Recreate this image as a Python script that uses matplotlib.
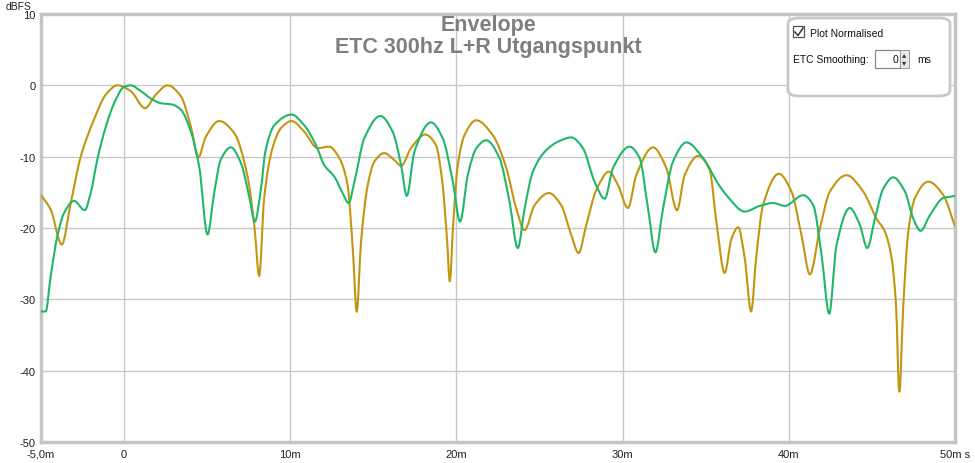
import matplotlib.pyplot as plt
from matplotlib.patches import FancyBboxPatch, Rectangle, PathPatch
from matplotlib.path import Path

plt.rcParams['font.family'] = ['Liberation Sans', 'DejaVu Sans']
plt.rcParams['axes.unicode_minus'] = False

# gold trace (ms, dBFS)
gold_t = [-5.0, -4.42, -3.75, -3.21, -2.61, -1.81, -1.10, -0.40, 0.40, 1.26, 1.91, 2.61,
          3.41, 4.02, 4.46, 4.92, 5.72, 6.63, 7.43, 7.85, 8.13, 8.43, 8.93, 9.44, 10.08,
          10.84, 11.65, 12.35, 12.95, 13.45, 13.76, 14.0, 14.26, 14.66, 15.06, 15.66,
          16.27, 16.67, 17.27, 18.11, 18.77, 19.17, 19.44, 19.6, 19.80, 20.08, 20.48,
          21.19, 22.19, 23.0, 23.6, 24.10, 24.70, 25.56, 26.3, 26.91, 27.35, 27.81,
          28.41, 29.18, 29.72, 30.32, 30.82, 31.83, 32.63, 33.27, 33.73, 34.54, 35.24,
          35.64, 36.14, 36.55, 36.95, 37.35, 37.73, 38.05, 38.45, 39.40, 40.16, 40.76,
          41.27, 41.87, 42.47, 43.47, 44.48, 45.28, 45.78, 46.19, 46.45, 46.65, 46.89,
          47.19, 47.59, 48.39, 49.3, 50.0]
gold_db = [-15.4, -17.4, -22.3, -16.5, -10.0, -4.8, -1.3, 0.0, -0.8, -3.2, -1.3, 0.0,
           -1.5, -5.8, -10.1, -7.2, -5.0, -6.7, -12.8, -20.0, -26.7, -15.8, -8.8, -6.0,
           -5.0, -6.5, -8.8, -8.6, -10.2, -14.0, -22.9, -31.7, -21.9, -14.0, -10.7, -9.5,
           -10.5, -11.3, -8.8, -6.9, -8.4, -14.0, -21.9, -27.5, -19.6, -11.2, -7.0,
           -4.9, -7.0, -11.6, -17.3, -20.3, -16.8, -15.1, -16.8, -21.0, -23.5, -19.6,
           -14.7, -12.1, -14.0, -17.2, -12.6, -8.7, -11.6, -17.5, -12.6, -9.9, -11.9,
           -19.1, -26.3, -21.5, -19.9, -24.3, -31.7, -23.8, -16.8, -12.4, -14.9, -21.0,
           -26.5, -20.1, -14.9, -12.6, -14.9, -18.7, -20.5, -24.3, -30.8, -43.0, -30.8,
           -20.5, -15.8, -13.5, -15.4, -19.8]

# green trace (ms, dBFS)
green_t = [-5.0, -4.72, -4.42, -4.02, -3.61, -3.01, -2.37, -2.01, -1.61, -1.10, -0.5,
           0.0, 0.40, 1.0, 1.71, 2.21, 2.91, 3.41, 4.02, 4.52, 5.02, 5.42, 5.82, 6.43,
           7.03, 7.53, 7.87, 8.23, 8.5, 9.04, 10.08, 10.84, 11.55, 12.05, 12.65, 13.15,
           13.51, 13.86, 14.46, 15.42, 16.16, 16.67, 17.01, 17.47, 18.47, 19.17, 19.78,
           20.22, 20.68, 21.2, 21.79, 22.59, 23.19, 23.69, 24.10, 24.6, 25.4, 26.2,
           26.91, 27.61, 28.31, 28.92, 29.42, 30.42, 31.02, 31.53, 31.97, 32.43, 33.03,
           33.84, 34.84, 35.80, 36.25, 37.35, 38.25, 39.06, 39.76, 40.86, 41.47, 41.97,
           42.43, 42.87, 43.67, 44.28, 44.72, 45.18, 45.68, 46.28, 46.99, 47.49, 47.93,
           48.49, 49.3, 50.0]
green_db = [-31.7, -31.7, -26.8, -21.2, -17.9, -16.2, -17.5, -15.1, -10.4, -5.8, -2.0,
            -0.2, 0.0, -0.8, -2.0, -2.5, -2.7, -3.4, -6.5, -11.4, -20.9, -15.1, -10.4,
            -8.7, -10.9, -15.6, -19.1, -14.6, -9.3, -5.6, -4.1, -5.6, -8.4, -11.2, -12.8,
            -15.1, -16.5, -13.5, -7.4, -4.3, -6.5, -11.2, -15.5, -9.3, -5.2, -7.4, -13.5,
            -19.1, -12.6, -8.8, -7.7, -10.2, -16.3, -22.8, -17.3, -12.1, -9.1, -7.8,
            -7.3, -8.8, -13.5, -15.9, -11.6, -8.6, -10.2, -17.3, -23.4, -17.3, -10.7,
            -8.0, -10.2, -14.0, -15.4, -17.7, -16.9, -16.5, -16.9, -15.4, -16.8, -23.8,
            -32.0, -22.4, -17.2, -19.6, -22.8, -18.7, -14.5, -12.9, -14.9, -18.7, -20.4,
            -18.2, -15.8, -15.5]

x_ticks = [-5, 0, 10, 20, 30, 40, 50]
x_labels = ['-5,0m', '0', '10m', '20m', '30m', '40m', '50m s']
y_ticks = [-50, -40, -30, -20, -10, 0, 10]


def smooth_path(xs, ys):
    # draw the read points joined by monotone cubic (bezier) segments
    n = len(xs)
    d = [(ys[i + 1] - ys[i]) / (xs[i + 1] - xs[i]) for i in range(n - 1)]
    m = [d[0]] + [0.0] * (n - 2) + [d[-1]]
    for i in range(1, n - 1):
        if d[i - 1] * d[i] > 0:
            h0, h1 = xs[i] - xs[i - 1], xs[i + 1] - xs[i]
            w1, w2 = 2 * h1 + h0, h1 + 2 * h0
            m[i] = (w1 + w2) / (w1 / d[i - 1] + w2 / d[i])
    verts = [(xs[0], ys[0])]
    codes = [Path.MOVETO]
    for i in range(n - 1):
        h = xs[i + 1] - xs[i]
        verts += [(xs[i] + h / 3, ys[i] + m[i] * h / 3),
                  (xs[i + 1] - h / 3, ys[i + 1] - m[i + 1] * h / 3),
                  (xs[i + 1], ys[i + 1])]
        codes += [Path.CURVE4] * 3
    return Path(verts, codes)


fig = plt.figure(figsize=(9.75, 4.64), dpi=100)
ax = fig.add_axes([41 / 975, 21 / 464, 914 / 975, 428 / 464])

ax.add_patch(PathPatch(smooth_path(gold_t, gold_db), facecolor='none',
                       edgecolor='#c3960f', lw=1.5, zorder=3))
ax.add_patch(PathPatch(smooth_path(green_t, green_db), facecolor='none',
                       edgecolor='#1fb86a', lw=1.5, zorder=4))

ax.set_xlim(-5, 50)
ax.set_ylim(-50, 10)
ax.set_xticks(x_ticks)
ax.set_xticklabels(x_labels)
ax.set_yticks(y_ticks)
ax.tick_params(length=0, labelsize=8, colors='#202020')
ax.tick_params(axis='x', pad=5)
ax.tick_params(axis='y', pad=4)
ax.grid(True, color='#c8c8c8', lw=1)
for s in ax.spines.values():
    s.set_color('#c4c4c4')
    s.set_linewidth(2.5)

fig.text(32 / 975, 1 - 7 / 464, 'dBFS', ha='right', va='center', fontsize=7.5, color='#202020')

fig.text(488 / 975, 1 - 26 / 464, 'Envelope', ha='center', va='center',
         fontsize=15.5, fontweight='bold', color='#7f7f7f')
fig.text(488 / 975, 1 - 48 / 464, 'ETC 300hz L+R Utgangspunkt', ha='center', va='center',
         fontsize=15.5, fontweight='bold', color='#7f7f7f')

# settings panel
W, H = 975, 464
box = FancyBboxPatch((788 / W, 1 - 97 / H), 162 / W, 78 / H,
                     boxstyle='round,pad=0,rounding_size=0.012',
                     transform=fig.transFigure, facecolor='white',
                     edgecolor='#c8c8c8', lw=2, zorder=10)
fig.add_artist(box)
fig.add_artist(Rectangle((793 / W, 1 - 38 / H), 11 / W, 11 / H, transform=fig.transFigure,
                         facecolor='white', edgecolor='#555555', lw=0.9, zorder=11))
fig.add_artist(plt.Line2D([795 / W, 798 / W, 803 / W], [1 - 33 / H, 1 - 36.5 / H, 1 - 29 / H],
                          transform=fig.transFigure, color='#333333', lw=1.1, zorder=12))
fig.text(810 / W, 1 - 34 / H, 'Plot Normalised', fontsize=7.5, va='center', color='#111111', zorder=12)
fig.text(793 / W, 1 - 60 / H, 'ETC Smoothing:', fontsize=7.5, va='center', color='#111111', zorder=12)
fig.add_artist(Rectangle((875 / W, 1 - 69 / H), 25 / W, 18 / H, transform=fig.transFigure,
                         facecolor='white', edgecolor='#888888', lw=0.9, zorder=11))
fig.add_artist(Rectangle((900 / W, 1 - 69 / H), 9 / W, 18 / H, transform=fig.transFigure,
                         facecolor='#e8e8e8', edgecolor='#999999', lw=0.7, zorder=11))
fig.text(904.5 / W, 1 - 56 / H, '\u25b4', fontsize=6, ha='center', va='center', color='#333333', zorder=12)
fig.text(904.5 / W, 1 - 64 / H, '\u25be', fontsize=6, ha='center', va='center', color='#333333', zorder=12)
fig.text(898 / W, 1 - 60 / H, '0', fontsize=7.5, ha='right', va='center', color='#111111', zorder=12)
fig.text(917 / W, 1 - 60 / H, 'ms', fontsize=7.5, va='center', color='#111111', zorder=12)

fig.savefig('out.png', dpi=100)
